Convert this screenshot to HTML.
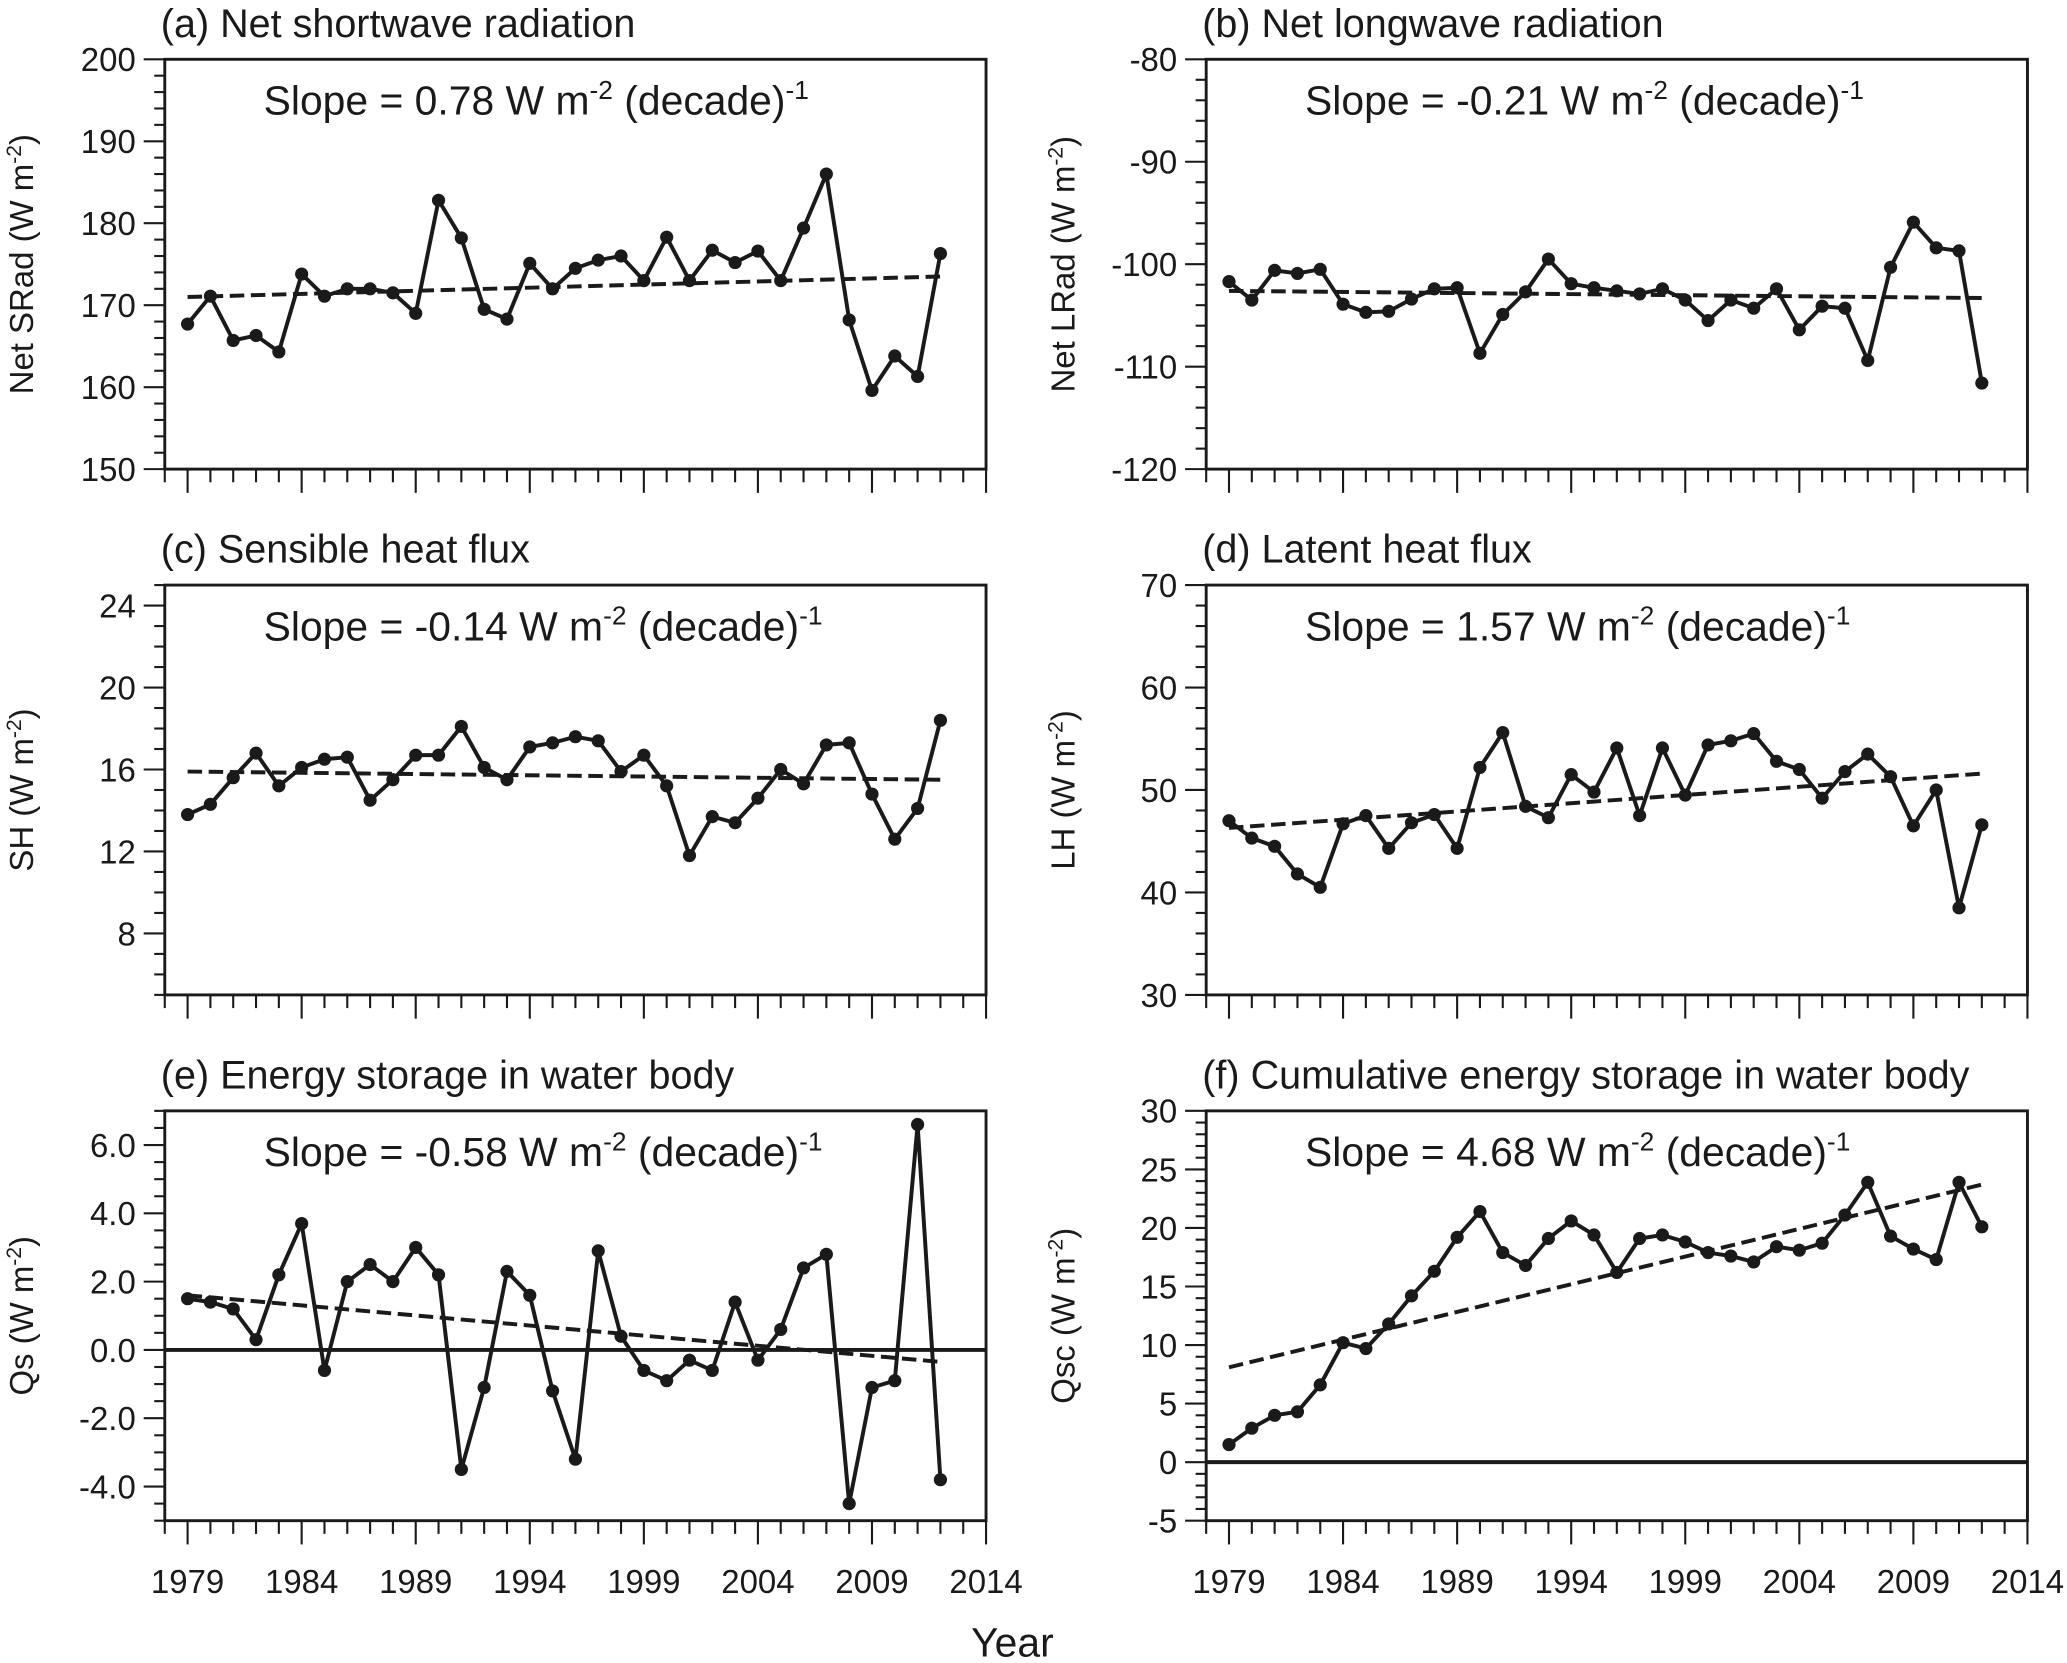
<!DOCTYPE html>
<html><head><meta charset="utf-8"><style>
html,body{margin:0;padding:0;background:#fff}
svg{display:block}
text{font-family:"Liberation Sans",sans-serif;fill:#1a1a1a}
</style></head><body>
<svg id="fig" width="2067" height="1663" viewBox="0 0 1568 1262" preserveAspectRatio="none" xmlns="http://www.w3.org/2000/svg">
<text x="768" y="1257" font-size="31" text-anchor="middle">Year</text>
</svg>
<script>
const years = [1979,1980,1981,1982,1983,1984,1985,1986,1987,1988,1989,1990,1991,1992,1993,1994,1995,1996,1997,1998,1999,2000,2001,2002,2003,2004,2005,2006,2007,2008,2009,2010,2011,2012];
const xTickLabels = ["1979","1984","1989","1994","1999","2004","2009","2014"];
const srad = [167.7,171.1,165.7,166.3,164.3,173.8,171.1,172,172,171.5,169,182.8,178.2,169.5,168.3,175.1,172,174.5,175.5,176,173,178.3,173,176.7,175.2,176.6,173,179.4,186,168.2,159.6,163.8,161.3,176.3];
const sradTrend = [171.0,173.5];
const lrad = [-101.7,-103.5,-100.6,-100.9,-100.5,-103.9,-104.7,-104.6,-103.4,-102.4,-102.3,-108.7,-104.9,-102.7,-99.5,-101.9,-102.3,-102.6,-102.9,-102.4,-103.5,-105.5,-103.5,-104.3,-102.4,-106.4,-104.1,-104.3,-109.4,-100.3,-95.9,-98.4,-98.7,-111.6];
const lradTrend = [-102.6,-103.3];
const sh = [13.8,14.3,15.6,16.8,15.2,16.1,16.5,16.6,14.5,15.5,16.7,16.7,18.1,16.1,15.5,17.1,17.3,17.6,17.4,15.9,16.7,15.2,11.8,13.7,13.4,14.6,16.0,15.3,17.2,17.3,14.8,12.6,14.1,18.4];
const shTrend = [15.9,15.5];
const lh = [47.0,45.3,44.5,41.8,40.5,46.7,47.5,44.3,46.8,47.6,44.3,52.2,55.6,48.4,47.3,51.5,49.8,54.1,47.5,54.1,49.5,54.4,54.8,55.5,52.8,52.0,49.2,51.8,53.5,51.3,46.5,50.0,38.5,46.6];
const lhTrend = [46.3,51.6];
const qs = [1.5,1.4,1.2,0.3,2.2,3.7,-0.6,2.0,2.5,2.0,3.0,2.2,-3.5,-1.1,2.3,1.6,-1.2,-3.2,2.9,0.4,-0.6,-0.9,-0.3,-0.6,1.4,-0.3,0.6,2.4,2.8,-4.5,-1.1,-0.9,6.6,-3.8];
const qsTrend = [1.6,-0.35];
const qsc = [1.5,2.9,4.0,4.3,6.6,10.2,9.7,11.8,14.2,16.3,19.2,21.4,17.9,16.8,19.1,20.6,19.4,16.2,19.1,19.4,18.8,17.9,17.6,17.1,18.4,18.1,18.7,21.1,23.9,19.3,18.2,17.3,23.9,20.1];
const qscTrend = [8.1,23.7];

const NS="http://www.w3.org/2000/svg";
const svg=document.getElementById('fig');
function mk(tag,attrs,parent){const e=document.createElementNS(NS,tag);for(const k in attrs)e.setAttribute(k,attrs[k]);(parent||svg).appendChild(e);return e;}

const panels=[
 {id:'a',x:125,y:45,title:'(a) Net shortwave radiation',ylab:'Net SRad',min:150,max:200,major:10,minor:2,dec:0,data:srad,trend:sradTrend,slope:' 0.78',zero:false},
 {id:'b',x:915,y:45,title:'(b) Net longwave radiation',ylab:'Net LRad',min:-120,max:-80,major:10,minor:2,dec:0,data:lrad,trend:lradTrend,slope:'-0.21',zero:false},
 {id:'c',x:125,y:444,title:'(c) Sensible heat flux',ylab:'SH',min:5,max:25,major:4,minor:1,dec:0,majStart:8,data:sh,trend:shTrend,slope:'-0.14',zero:false},
 {id:'d',x:915,y:444,title:'(d) Latent heat flux',ylab:'LH',min:30,max:70,major:10,minor:2,dec:0,data:lh,trend:lhTrend,slope:'1.57',zero:false},
 {id:'e',x:125,y:843,title:'(e) Energy storage in water body',ylab:'Qs',min:-5,max:7,major:2,minor:0.5,dec:1,majStart:-4,data:qs,trend:qsTrend,slope:'-0.58',zero:true},
 {id:'f',x:915,y:843,title:'(f) Cumulative energy storage in water body',ylab:'Qsc',min:-5,max:30,major:5,minor:1,dec:0,data:qsc,trend:qscTrend,slope:'4.68',zero:true}
];
const W=623,H=311, X0=1978, X1=2014;

panels.forEach(p=>{
 const g=mk('g',{});
 
 
 const sx=v=>p.x+(v-X0)/(X1-X0)*W;
 const sy=v=>p.y+H-(v-p.min)/(p.max-p.min)*H;
 const t=mk('text',{x:p.x-3,y:p.y-17,'font-size':30,textLength:(p.id==='f'?582:null)},g);t.textContent=p.title;
 if(p.id!=='f')t.removeAttribute('textLength');
 
 for(let v=p.min;v<=p.max+1e-9;v+=p.minor){
  const vv=Math.round(v*1000)/1000;
  const ms=p.majStart!==undefined?p.majStart:p.min;
  const isMaj=Math.abs(((vv-ms)/p.major)-Math.round((vv-ms)/p.major))<1e-6;
  mk('line',{x1:p.x-(isMaj?16:8),x2:p.x,y1:sy(vv),y2:sy(vv),stroke:'#1a1a1a','stroke-width':1.6},g);
  if(isMaj){const l=mk('text',{x:p.x-22,y:sy(vv)+9,'font-size':25,'text-anchor':'end'},g);l.textContent=p.dec?vv.toFixed(1):String(vv);
   }
 }
 for(let yr=X0;yr<=X1;yr++){
  const isMaj=(yr-1979)%5===0;
  mk('line',{x1:sx(yr),x2:sx(yr),y1:p.y+H,y2:p.y+H+(isMaj?18:10),stroke:'#1a1a1a','stroke-width':1.6},g);
 }
 if(p.id==='e'||p.id==='f'){
  xTickLabels.forEach(s=>{const l=mk('text',{x:sx(+s),y:p.y+H+55,'font-size':25,'text-anchor':'middle'},g);l.textContent=s;
   });
 }
 const yl=mk('text',{transform:`translate(${p.x-100},${p.y+H/2}) rotate(-90)`,'font-size':25,'text-anchor':'middle'},g);
 yl.innerHTML=p.ylab+' (W m<tspan dy="-9" font-size="16">-2</tspan><tspan dy="9">)</tspan>';
 
 if(p.zero){mk('line',{x1:p.x,x2:p.x+W,y1:sy(0),y2:sy(0),stroke:'#1a1a1a','stroke-width':3},g);}
 const tr=mk('line',{x1:sx(years[0]),x2:sx(years[years.length-1]),y1:sy(p.trend[0]),y2:sy(p.trend[1]),stroke:'#1a1a1a','stroke-width':3,'stroke-dasharray':'11,5'},g);
 
 const pl=mk('polyline',{points:p.data.map((v,i)=>sx(years[i])+','+sy(v)).join(' '),fill:'none',stroke:'#1a1a1a','stroke-width':3},g);
 
 p.data.forEach((v,i)=>{const c=mk('circle',{cx:sx(years[i]),cy:sy(v),r:5,fill:'#1a1a1a'},g);
  });
 const st=mk('text',{x:p.x+75,y:p.y+42,'font-size':31},g);
 st.innerHTML='Slope = '+p.slope+' W m<tspan dy="-12" font-size="20">-2</tspan><tspan dy="12"> (decade)</tspan><tspan dy="-12" font-size="20">-1</tspan>';
 
 const fr=mk('rect',{x:p.x,y:p.y,width:W,height:H,fill:'none',stroke:'#1a1a1a','stroke-width':2.2},g);
 
});
</script>
</body></html>
